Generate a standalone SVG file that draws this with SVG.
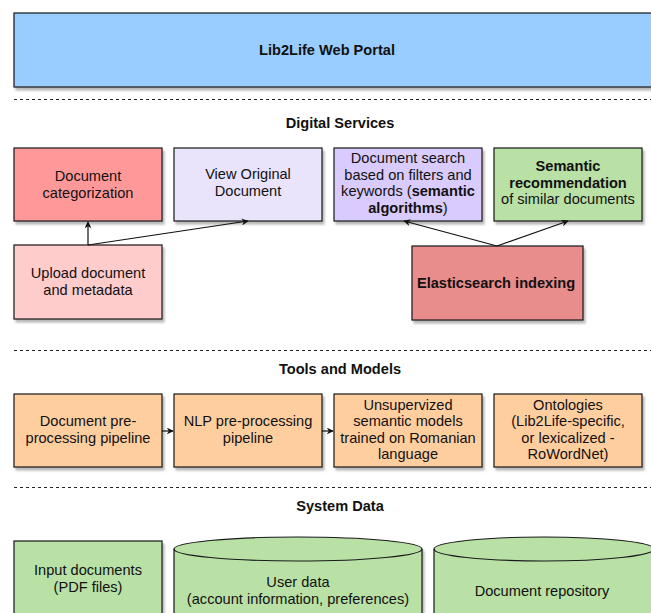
<svg xmlns="http://www.w3.org/2000/svg" width="651" height="613" viewBox="0 0 651 613">
<style>
text{font-family:"Liberation Sans",Arial,Helvetica,sans-serif;font-size:14.6px;fill:#111;text-anchor:middle}
.h{font-weight:bold}
.b{font-weight:bold}
.box{stroke:#1a1a1a;stroke-width:1.2;filter:url(#sh)}
.sep{stroke:#222;stroke-width:1;stroke-dasharray:3,3;fill:none}
.con{stroke:#111;stroke-width:1.2;fill:none;marker-end:url(#ah)}
</style>
<defs>
<filter id="sh" x="-5%" y="-5%" width="115%" height="120%">
<feDropShadow dx="2" dy="3" stdDeviation="0.8" flood-color="#000" flood-opacity="0.28"/>
</filter>
<marker id="ah" viewBox="0 0 10 10" refX="9" refY="5" markerWidth="7" markerHeight="7" orient="auto" markerUnits="userSpaceOnUse">
<path d="M0,0 L10,5 L0,10 L3,5 Z" fill="#111"/>
</marker>
</defs>
<rect width="651" height="613" fill="#fff"/>

<g id="portal">
<rect class="box" x="14" y="13" width="650" height="74" fill="#99CCFF"/>
<text class="b" x="327" y="55">Lib2Life Web Portal</text>
</g>

<g id="separators">
<line class="sep" x1="14" y1="99.5" x2="651" y2="99.5"/>
<line class="sep" x1="14" y1="350.5" x2="651" y2="350.5"/>
<line class="sep" x1="14" y1="487.5" x2="651" y2="487.5"/>
</g>

<g id="titles">
<text class="h" x="340" y="128">Digital Services</text>
<text class="h" x="340" y="374">Tools and Models</text>
<text class="h" x="340" y="511">System Data</text>
</g>

<g id="doc-categorization">
<rect class="box" x="14" y="148" width="148" height="73" fill="#FF9999"/>
<text x="88" y="181">Document</text>
<text x="88" y="198">categorization</text>
</g>
<g id="view-original">
<rect class="box" x="174" y="148" width="148" height="73" fill="#E9E3FC"/>
<text x="248" y="179">View Original</text>
<text x="248" y="196">Document</text>
</g>
<g id="doc-search">
<rect class="box" x="334" y="148" width="148" height="73" fill="#D9CBFB"/>
<text x="408" y="163">Document search</text>
<text x="408" y="180">based on filters and</text>
<text x="408" y="196">keywords (<tspan class="b">semantic</tspan></text>
<text x="408" y="213"><tspan class="b">algorithms</tspan>)</text>
</g>
<g id="semantic-rec">
<rect class="box" x="494" y="148" width="148" height="73" fill="#B9E0A5"/>
<text class="b" x="568" y="171">Semantic</text>
<text class="b" x="568" y="188">recommendation</text>
<text x="568" y="204">of similar documents</text>
</g>
<g id="upload">
<rect class="box" x="14" y="245" width="148" height="74" fill="#FFCCCC"/>
<text x="88" y="278">Upload document</text>
<text x="88" y="295">and metadata</text>
</g>
<g id="elasticsearch">
<rect class="box" x="412" y="246" width="171" height="74" fill="#E88C8C"/>
<text class="b" x="496" y="288">Elasticsearch indexing</text>
</g>

<g id="doc-preprocessing">
<rect class="box" x="14" y="394" width="148" height="73" fill="#FFCE9F"/>
<text x="88" y="426">Document pre-</text>
<text x="88" y="443">processing pipeline</text>
</g>
<g id="nlp-preprocessing">
<rect class="box" x="174" y="394" width="148" height="73" fill="#FFCE9F"/>
<text x="248" y="426">NLP pre-processing</text>
<text x="248" y="443">pipeline</text>
</g>
<g id="semantic-models">
<rect class="box" x="334" y="394" width="148" height="73" fill="#FFCE9F"/>
<text x="408" y="410">Unsupervized</text>
<text x="408" y="426">semantic models</text>
<text x="408" y="443">trained on Romanian</text>
<text x="408" y="459">language</text>
</g>
<g id="ontologies">
<rect class="box" x="494" y="394" width="148" height="73" fill="#FFCE9F"/>
<text x="568" y="410">Ontologies</text>
<text x="568" y="426">(Lib2Life-specific,</text>
<text x="568" y="443">or lexicalized -</text>
<text x="568" y="459">RoWordNet)</text>
</g>

<g id="input-documents">
<rect class="box" x="14" y="541" width="148" height="90" fill="#B9E0A5"/>
<text x="88" y="575">Input documents</text>
<text x="88" y="592">(PDF files)</text>
</g>
<g id="user-data">
<path class="box" d="M174,549 A124,12 0 0 1 422,549 L422,620 L174,620 Z" fill="#B9E0A5"/>
<path d="M174,549 A124,12 0 0 0 422,549" fill="none" stroke="#1a1a1a" stroke-width="1.2"/>
<text x="298" y="587">User data</text>
<text x="298" y="604">(account information, preferences)</text>
</g>
<g id="doc-repository">
<path class="box" d="M434,549 A110,12 0 0 1 654,549 L654,620 L434,620 Z" fill="#B9E0A5"/>
<path d="M434,549 A110,12 0 0 0 654,549" fill="none" stroke="#1a1a1a" stroke-width="1.2"/>
<text x="542" y="596">Document repository</text>
</g>

<g id="connectors">
<line class="con" x1="88" y1="245" x2="88" y2="222"/>
<line class="con" x1="88" y1="245" x2="248" y2="221"/>
<line class="con" x1="497" y1="246" x2="404" y2="221"/>
<line class="con" x1="497" y1="246" x2="568" y2="221"/>
<line class="con" x1="162" y1="431" x2="173" y2="431"/>
<line class="con" x1="322" y1="431" x2="333" y2="431"/>
</g>
</svg>
